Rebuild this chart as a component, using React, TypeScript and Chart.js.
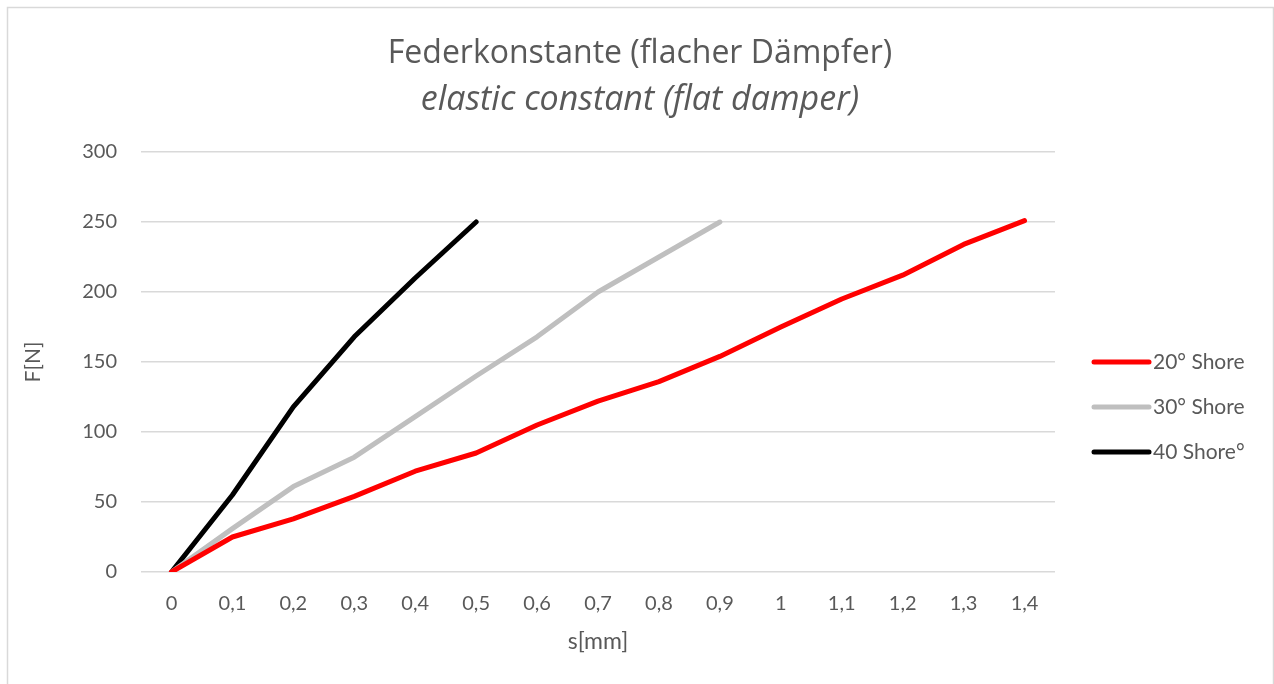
import React, { useEffect, useRef } from "react";
import { Chart, registerables } from "chart.js";

Chart.register(...registerables);

const categories = ["0", "0,1", "0,2", "0,3", "0,4", "0,5", "0,6", "0,7", "0,8", "0,9", "1", "1,1", "1,2", "1,3", "1,4"];
const shore20 = [0, 25, 38, 54, 72, 85, 105, 122, 136, 154, 175, 195, 212, 234, 251];
const shore30 = [0, 31, 61, 82, 111, 140, 168, 200, 225, 250, null, null, null, null, null];
const shore40 = [0, 55, 118, 168, 210, 250, null, null, null, null, null, null, null, null, null];
const seriesLabels = ["20° Shore", "30° Shore", "40 Shore°"];
const seriesColors = ["#ff0000", "#bfbfbf", "#000000"];
const yMin = 0;
const yMax = 300;
const yStep = 50;
const titleText = "Federkonstante (flacher Dämpfer)";
const subtitleText = "elastic constant (flat damper)";
const xAxisTitle = "s[mm]";
const yAxisTitle = "F[N]";

const FONT = "Lato, 'Open Sans', sans-serif";
const TITLE_FONT = "'Open Sans', Lato, sans-serif";
const TEXT = "#595959";
const GRID = "#d9d9d9";

const framePlugin = {
  id: "frame",
  beforeDraw(chart: any) {
    const ctx = chart.ctx;
    ctx.save();
    ctx.fillStyle = "#ffffff";
    ctx.fillRect(0, 0, chart.width, chart.height);
    ctx.strokeStyle = GRID;
    ctx.lineWidth = 1.5;
    ctx.strokeRect(7.5, 7.5, chart.width - 8, chart.height + 20);
    ctx.restore();
  },
};

const titlePlugin = {
  id: "twoLineTitle",
  afterDraw(chart: any) {
    const ctx = chart.ctx;
    ctx.save();
    ctx.fillStyle = TEXT;
    ctx.textAlign = "center";
    ctx.textBaseline = "middle";
    ctx.font = `400 32px ${TITLE_FONT}`;
    ctx.fillText(titleText, 640, 54);
    ctx.font = `italic 400 34px ${TITLE_FONT}`;
    ctx.fillText(subtitleText, 640, 100);
    ctx.restore();
  },
};

const legendPlugin = {
  id: "sideLegend",
  afterDraw(chart: any) {
    const ctx = chart.ctx;
    ctx.save();
    const x0 = 1094;
    const x1 = 1149;
    const yStart = 362;
    const gap = 45;
    chart.data.datasets.forEach((ds: any, i: number) => {
      const y = yStart + i * gap;
      ctx.strokeStyle = ds.borderColor;
      ctx.lineWidth = 5;
      ctx.lineCap = "round";
      ctx.beginPath();
      ctx.moveTo(x0, y);
      ctx.lineTo(x1, y);
      ctx.stroke();
      ctx.fillStyle = TEXT;
      ctx.font = `21px ${FONT}`;
      ctx.textAlign = "left";
      ctx.textBaseline = "middle";
      ctx.fillText(ds.label, x1 + 4, y);
    });
    ctx.restore();
  },
};

export default function App() {
  const canvasRef = useRef<HTMLCanvasElement | null>(null);

  useEffect(() => {
    if (!canvasRef.current) return;
    const seriesData = [shore20, shore30, shore40];
    const chart = new Chart(canvasRef.current, {
      type: "line",
      data: {
        labels: categories,
        datasets: seriesData.map((d, i) => ({
          label: seriesLabels[i],
          data: d,
          borderColor: seriesColors[i],
          backgroundColor: seriesColors[i],
          borderWidth: 5,
          pointRadius: 0,
          tension: 0,
          borderCapStyle: "round",
          borderJoinStyle: "round",
          spanGaps: false,
        })),
      },
      options: {
        animation: false,
        responsive: false,
        maintainAspectRatio: false,
        layout: { padding: { top: 152, left: 18, right: 219, bottom: 25 } },
        plugins: {
          legend: { display: false },
          tooltip: { enabled: false },
          title: { display: false },
        },
        scales: {
          x: {
            type: "category",
            offset: true,
            grid: { display: false, drawTicks: false },
            border: { display: false },
            ticks: { color: TEXT, font: { family: FONT, size: 20 }, padding: 20, maxRotation: 0, autoSkip: false },
            title: { display: true, text: xAxisTitle, color: TEXT, font: { family: FONT, size: 23 }, padding: { top: 4, bottom: 4 } },
            afterFit(scale: any) {
              scale.height = 87;
            },
          },
          y: {
            min: yMin,
            max: yMax,
            grid: { color: GRID, lineWidth: 1.5, drawTicks: false },
            border: { display: false },
            ticks: { stepSize: yStep, color: TEXT, font: { family: FONT, size: 20 }, padding: 24 },
            title: { display: true, text: yAxisTitle, color: TEXT, font: { family: FONT, size: 21 }, padding: { top: 3, bottom: 4 } },
            afterFit(scale: any) {
              scale.width = 123;
            },
          },
        },
      },
      plugins: [framePlugin, titlePlugin, legendPlugin],
    });
    return () => chart.destroy();
  }, []);

  return (
    <div style={{ position: "fixed", left: 0, top: 0, width: 1274, height: 684, background: "#fff" }}>
      <canvas ref={canvasRef} width={1274} height={684} style={{ display: "block" }} />
    </div>
  );
}
